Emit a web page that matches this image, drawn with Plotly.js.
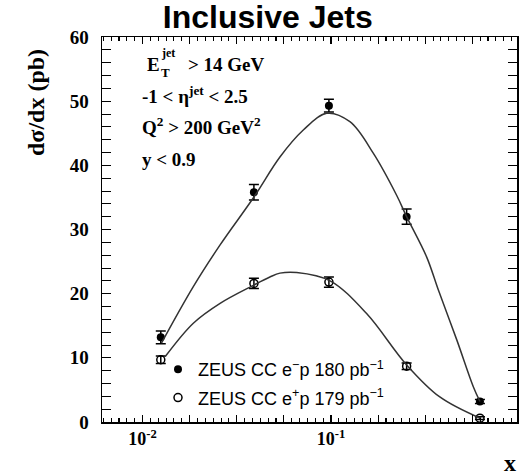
<!DOCTYPE html>
<html>
<head>
<meta charset="utf-8">
<script src="https://cdn.plot.ly/plotly-3.0.1.min.js"></script>
<style>html,body{margin:0;padding:0;background:#fff;}#chart{width:520px;height:475px;}</style>
</head>
<body>
<div id="chart"></div>
<script>
// ---- data ----
var xBins = [0.0125, 0.039, 0.0975, 0.252, 0.617];
var eMinusVals = [13.2, 35.8, 49.3, 32.0, 3.2];
var eMinusErr = [1.0, 1.2, 1.0, 1.2, 0.3];
var ePlusVals = [9.7, 21.6, 21.8, 8.7, 0.6];
var ePlusErr = [0.6, 0.8, 0.8, 0.5, 0.2];

var curveMinusX = [0.0126, 0.0186, 0.0258, 0.0391, 0.0536, 0.0713, 0.0948, 0.126, 0.1676, 0.2233, 0.252, 0.322, 0.371, 0.465, 0.569, 0.617];
var curveMinusY = [12.3, 21.1, 27.6, 35.1, 41.3, 45.5, 48.1, 46.8, 41.9, 35.3, 32.0, 25.7, 20.6, 12.8, 5.5, 3.2];
var curvePlusX = [0.0132, 0.0186, 0.0258, 0.0387, 0.0474, 0.0536, 0.0658, 0.0989, 0.1545, 0.252, 0.378, 0.617];
var curvePlusY = [10.2, 15.4, 18.5, 21.3, 22.6, 23.2, 23.3, 22.0, 16.9, 8.9, 3.9, 0.6];

var legendNames = ['ZEUS CC e<sup>\u2212</sup>p 180 pb<sup>\u22121</sup>', 'ZEUS CC e<sup>+</sup>p 179 pb<sup>\u22121</sup>'];
var xTickLabels = ['10<sup>-2</sup>', '10<sup>-1</sup>'];
var xTickVals = [0.01, 0.1];
var yTickVals = [0, 10, 20, 30, 40, 50, 60];

// ---- axis tick helpers (styling only) ----
var longTicks = [];
for (var k = -1; k <= 8; k++) { longTicks.push(Math.pow(10, -2 + 0.25 * k)); }
var shortTicks = [];
for (var m = -6; m <= 48; m++) { shortTicks.push(Math.pow(10, -2 + m / 24)); }

var serif = 'Liberation Serif, Times New Roman, serif';
var sans = 'Liberation Sans, Arial, sans-serif';

var traces = [
  {x: curveMinusX, y: curveMinusY, xaxis: 'x2', yaxis: 'y', mode: 'lines', line: {shape: 'spline', smoothing: 1, color: '#333', width: 1.5}, showlegend: false, hoverinfo: 'skip'},
  {x: curvePlusX, y: curvePlusY, xaxis: 'x3', yaxis: 'y', mode: 'lines', line: {shape: 'spline', smoothing: 1, color: '#333', width: 1.5}, showlegend: false, hoverinfo: 'skip'},
  {x: xBins, y: eMinusVals, mode: 'markers', name: legendNames[0], legendgroup: 'a',
   marker: {symbol: 'circle', size: 8, color: '#000'},
   error_y: {type: 'data', array: eMinusErr, color: '#000', thickness: 1.5, width: 5}},
  {x: xBins, y: ePlusVals, mode: 'markers', name: legendNames[1], legendgroup: 'b',
   marker: {symbol: 'circle-open', size: 8, color: '#000', line: {width: 1.5}},
   error_y: {type: 'data', array: ePlusErr, color: '#000', thickness: 1.5, width: 5}}
];

function px(p) { return (p - 102) / 415; }
function py(p) { return (422 - p) / 385; }

var annFont = {family: serif, size: 19, color: '#000', weight: 'bold'};
var annotations = [
  {text: 'E', x: px(145), y: py(64), xanchor: 'left', yanchor: 'middle', font: annFont},
  {text: 'jet', x: px(159), y: py(53), xanchor: 'left', yanchor: 'middle', font: {family: serif, size: 12, color: '#000', weight: 'bold'}},
  {text: 'T', x: px(159), y: py(72), xanchor: 'left', yanchor: 'middle', font: {family: serif, size: 13, color: '#000', weight: 'bold'}},
  {text: '&gt; 14 GeV', x: px(186), y: py(64), xanchor: 'left', yanchor: 'middle', font: annFont},
  {text: '-1 &lt; \u03b7<sup>jet</sup> &lt; 2.5', x: px(140), y: py(95), xanchor: 'left', yanchor: 'middle', font: annFont},
  {text: 'Q<sup>2</sup> &gt; 200 GeV<sup>2</sup>', x: px(140), y: py(126), xanchor: 'left', yanchor: 'middle', font: annFont},
  {text: 'y &lt; 0.9', x: px(140), y: py(159), xanchor: 'left', yanchor: 'middle', font: annFont},
  {text: 'd\u03c3/dx (pb)', textangle: -90, x: px(36), y: py(103), xanchor: 'center', yanchor: 'middle', font: {family: serif, size: 24, color: '#000', weight: 'bold'}},
  {text: 'x', x: px(518), y: py(463), xanchor: 'right', yanchor: 'middle', font: {family: serif, size: 24, color: '#000', weight: 'bold'}}
];
annotations.forEach(function (a) { a.xref = 'paper'; a.yref = 'paper'; a.showarrow = false; });

var xRange = [-2.215, -0.013];
function tickAxis(vals, len) {
  return {type: 'log', range: xRange, overlaying: 'x', anchor: 'y', side: 'bottom',
          showgrid: false, zeroline: false, showline: true, linecolor: '#000', linewidth: 1.5,
          mirror: 'allticks', ticks: 'inside', ticklen: len, tickwidth: 1.1, tickcolor: '#000',
          tickmode: 'array', tickvals: vals, showticklabels: false};
}

var layout = {
  width: 520, height: 475,
  margin: {l: 102, r: 3, t: 37, b: 53},
  paper_bgcolor: '#fff', plot_bgcolor: '#fff',
  title: {text: 'Inclusive Jets', x: 0.515, xref: 'container', xanchor: 'center', y: 0.965, yref: 'container', yanchor: 'middle',
          font: {family: sans, size: 32, color: '#000', weight: 'bold'}},
  xaxis: {type: 'log', range: xRange, showgrid: false, zeroline: false,
          showline: true, linecolor: '#000', linewidth: 1.5, mirror: 'allticks',
          ticks: 'inside', ticklen: 7, tickwidth: 1.1, tickcolor: '#000',
          tickmode: 'array', tickvals: xTickVals, ticktext: xTickLabels,
          tickfont: {family: serif, size: 18, color: '#000', weight: 'bold'}},
  xaxis2: tickAxis(longTicks, 7),
  xaxis3: tickAxis(shortTicks, 4),
  yaxis: {range: [0, 60], showgrid: false, zeroline: false,
          showline: true, linecolor: '#000', linewidth: 1.5, mirror: 'allticks',
          ticks: 'inside', ticklen: 9, tickwidth: 1.1, tickcolor: '#000',
          tickmode: 'array', tickvals: yTickVals, ticklabelstandoff: 8,
          tickfont: {family: serif, size: 19, color: '#000', weight: 'bold'},
          minor: {dtick: 2, ticks: 'inside', ticklen: 5, tickwidth: 1, tickcolor: '#000', showgrid: false}},
  showlegend: true,
  legend: {x: px(158), y: py(351), xanchor: 'left', yanchor: 'top', bgcolor: 'rgba(0,0,0,0)',
           traceorder: 'grouped', tracegroupgap: 2,
           font: {family: sans, size: 18, color: '#000'}},
  annotations: annotations
};

Plotly.newPlot('chart', traces, layout, {displayModeBar: false, staticPlot: true});
</script>
</body>
</html>
